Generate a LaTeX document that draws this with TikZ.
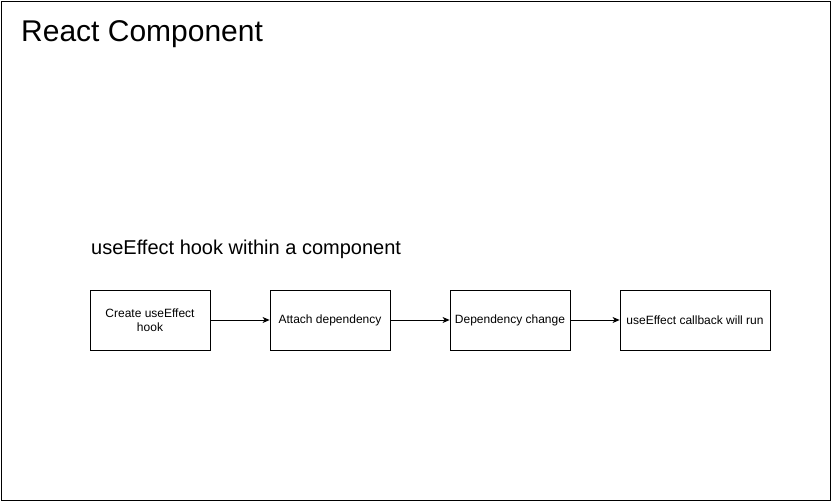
\documentclass[tikz,border=0pt]{standalone}
\usepackage{fontspec}
\setmainfont{Liberation Sans}
\usetikzlibrary{arrows.meta}
\begin{document}
\begin{tikzpicture}[x=1pt,y=-1pt,
  box/.style={draw=black,line width=0.8pt,minimum width=120pt,minimum height=60pt,inner sep=0pt,align=center,font=\fontsize{12}{14}\selectfont},
  conn/.style={draw=black,line width=0.8pt,-{Stealth[length=7pt,width=6pt,inset=2pt]}}]
\useasboundingbox (0,0) rectangle (831,501);
\node[draw=black,line width=1pt,minimum width=829pt,minimum height=499pt,inner sep=0pt] (frame) at (415.5,250.5) {};
\node[anchor=west,inner sep=0pt,font=\fontsize{30}{34}\selectfont] (title) at (21,34) {React Component};
\node[anchor=west,inner sep=0pt,font=\fontsize{20}{24}\selectfont] (sub) at (91,249.5) {useEffect hook within a component};
\node[box] (a) at (150,320) {Create useEffect\\hook};
\node[box] (b) at (330,320) {Attach dependency};
\node[box] (c) at (510,320) {Dependency change};
\node[box,minimum width=150pt] (d) at (695,320) {useEffect callback will run};
\draw[conn] (a) -- (b);
\draw[conn] (b) -- (c);
\draw[conn] (c) -- (d);
\end{tikzpicture}
\end{document}
